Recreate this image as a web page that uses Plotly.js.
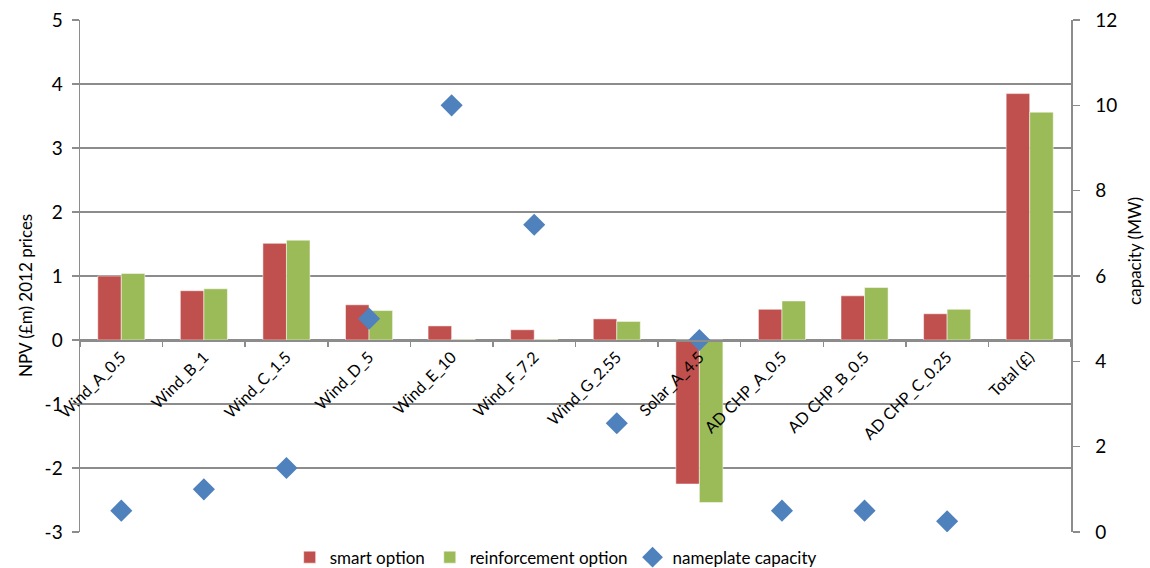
<!DOCTYPE html>
<html>
<head>
<meta charset="utf-8">
<script src="https://cdn.plot.ly/plotly-3.0.1.min.js"></script>
<style>html,body{margin:0;padding:0;background:#fff;}#chart{width:1150px;height:568px;}</style>
</head>
<body>
<div id="chart"></div>
<script>
const categories = ["Wind_A_0.5","Wind_B_1","Wind_C_1.5","Wind_D_5","Wind_E_10","Wind_F_7.2","Wind_G_2.55","Solar_A_4.5","AD CHP_A_0.5","AD CHP_B_0.5","AD CHP_C_0.25","Total (£)"];
const smartOption = [1.00, 0.77, 1.51, 0.55, 0.22, 0.16, 0.33, -2.25, 0.48, 0.69, 0.41, 3.85];
const reinforcementOption = [1.04, 0.80, 1.56, 0.46, 0.01, 0.01, 0.29, -2.54, 0.61, 0.82, 0.48, 3.56];
const nameplateCapacity = [0.5, 1, 1.5, 5, 10, 7.2, 2.55, 4.5, 0.5, 0.5, 0.25, null];
const leftTicks = [-3,-2,-1,0,1,2,3,4,5];
const rightTicks = [0,2,4,6,8,10,12];
const leftTitle = "NPV (£m) 2012 prices";
const rightTitle = "capacity (MW)";

const FONT = "Lato, 'Open Sans', sans-serif";
const GRID = "#8c8c8c";

const traces = [
  {type:"bar", name:"smart option", x:categories, y:smartOption,
   marker:{color:"#C0504D", line:{color:"#ffffff", width:0.5}}, hoverinfo:"skip"},
  {type:"bar", name:"reinforcement option", x:categories, y:reinforcementOption,
   marker:{color:"#9BBB59", line:{color:"#ffffff", width:0.5}}, hoverinfo:"skip"},
  {type:"scatter", mode:"markers", name:"nameplate capacity", x:categories, y:nameplateCapacity,
   yaxis:"y2", marker:{symbol:"diamond", size:17, color:"#4F81BD"}, hoverinfo:"skip"}
];

const layout = {
  width:1150, height:568,
  margin:{l:80, r:79, t:20, b:36, autoexpand:false},
  paper_bgcolor:"#ffffff", plot_bgcolor:"#ffffff",
  font:{family:FONT, color:"#000000", size:18},
  barmode:"group", bargap:0.43, bargroupgap:0,
  showlegend:true,
  legend:{orientation:"h", x:0.48, xanchor:"center", y:-0.05, yanchor:"middle",
          font:{size:17, family:FONT}, itemwidth:30, tracegroupgap:0, traceorder:"normal"},
  xaxis:{type:"category", range:[-0.5, categories.length - 0.5], anchor:"free", position:0.375, automargin:false,
         showline:true, linecolor:GRID, linewidth:1.5,
         ticks:"outside", tickson:"boundaries", ticklen:5, tickcolor:GRID, tickwidth:1.5,
         tickangle:-45, tickfont:{size:16, family:FONT}, showgrid:false, zeroline:false,
         fixedrange:true},
  yaxis:{range:[-3,5], tickvals:leftTicks, ticktext:leftTicks.map(String), automargin:false,
         showline:true, linecolor:GRID, linewidth:1.5,
         ticks:"outside", ticklen:7, tickcolor:GRID, tickwidth:1.5, ticklabelstandoff:5,
         showgrid:true, gridcolor:GRID, gridwidth:1.5, zeroline:false,
         tickfont:{size:19, family:FONT}},
  yaxis2:{range:[0,12], tickvals:rightTicks, ticktext:rightTicks.map(String), automargin:false,
          overlaying:"y", side:"right",
          showline:true, linecolor:GRID, linewidth:1.5,
          ticks:"outside", ticklen:7, tickcolor:GRID, tickwidth:1.5, ticklabelstandoff:12,
          showgrid:false, zeroline:false,
          tickfont:{size:19, family:FONT}},
  annotations:[
    {text:leftTitle, xref:"paper", yref:"paper", x:-0.0545, y:0.463, xanchor:"center", yanchor:"middle",
     textangle:-90, showarrow:false, font:{size:17, family:FONT}},
    {text:rightTitle, xref:"paper", yref:"paper", x:1.0646, y:0.549, xanchor:"center", yanchor:"middle",
     textangle:-90, showarrow:false, font:{size:17, family:FONT}}
  ]
};

Plotly.newPlot("chart", traces, layout, {staticPlot:true, displayModeBar:false});
</script>
</body>
</html>
